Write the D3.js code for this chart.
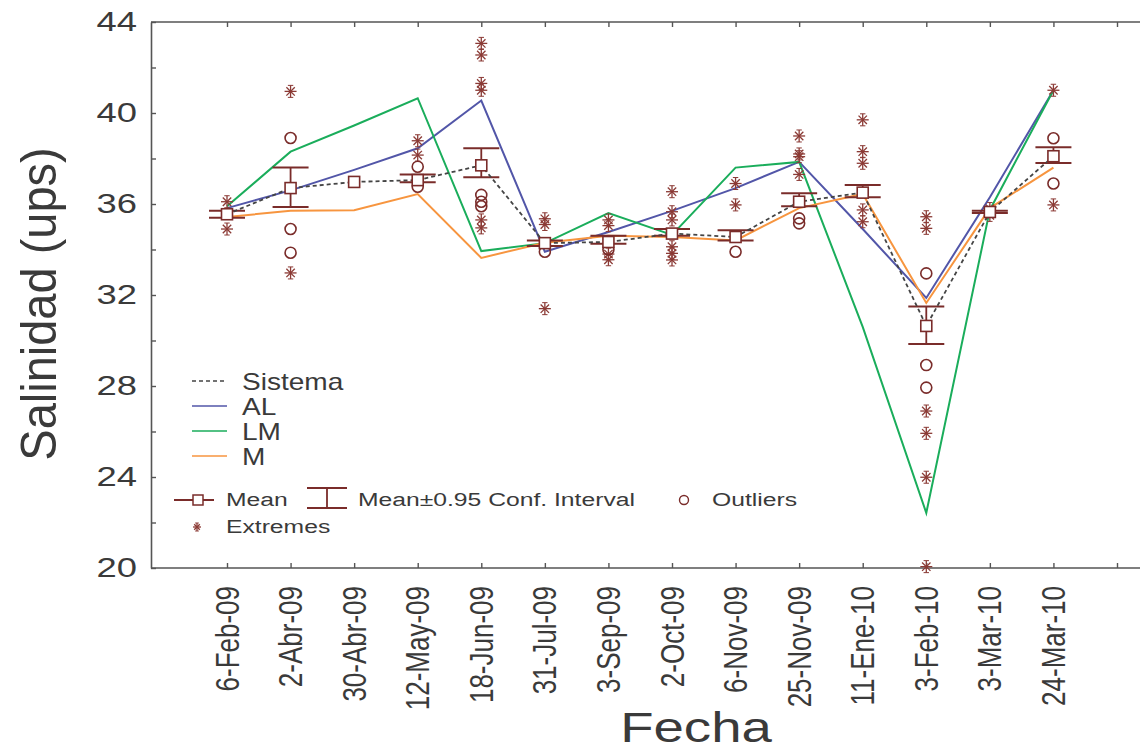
<!DOCTYPE html>
<html>
<head>
<meta charset="utf-8">
<script src="https://cdn.jsdelivr.net/npm/d3@7"></script>
<style>
  html, body { margin: 0; padding: 0; background: #fff; }
  svg { display: block; }
  text { font-family: "Liberation Sans", Arial, sans-serif; fill: #3a3a3a; }
</style>
</head>
<body>
<svg id="chart" width="1140" height="752"></svg>
<script>
// Sampling dates
const categories = ["6-Feb-09","2-Abr-09","30-Abr-09","12-May-09","18-Jun-09","31-Jul-09",
  "3-Sep-09","2-Oct-09","6-Nov-09","25-Nov-09","11-Ene-10","3-Feb-10","3-Mar-10","24-Mar-10"];

// Whole-system mean and its 95% confidence interval
const sistema = [35.55, 36.7, 36.97, 37.05, 37.7, 34.28, 34.33, 34.7, 34.55, 36.1, 36.5, 30.64, 35.65, 38.1];
const ciLow   = [35.4, 35.87, 36.97, 36.96, 37.18, 34.15, 34.25, 34.6, 34.4, 35.9, 36.3, 29.85, 35.6, 37.8];
const ciHigh  = [35.7, 37.6, 36.97, 37.3, 38.45, 34.4, 34.6, 34.9, 34.85, 36.47, 36.84, 31.5, 35.7, 38.5];

// Zone series
const AL = [35.82, 36.6, 37.5, 38.45, 40.55, 33.9, 34.77, 35.7, 36.7, 37.85, 34.9, 31.87, 36.3, 41.0];
const LM = [35.9, 38.3, 39.45, 40.65, 33.93, 34.28, 35.6, 34.64, 37.6, 37.85, 30.6, 22.42, 35.74, 41.0];
const M  = [35.43, 35.7, 35.73, 36.44, 33.63, 34.3, 34.6, 34.55, 34.4, 35.82, 36.44, 31.65, 35.82, 37.6];

// Outliers and extremes per date
const outliers = [[], [38.9, 34.9, 33.86], [], [37.64, 36.76], [36.4, 36.1, 35.9], [33.9], [34.0], [],
  [33.9], [35.37, 35.15], [], [32.95, 28.92, 27.93], [], [38.89, 36.9]];
const extremes = [[36.1, 34.9], [40.95, 32.97], [], [38.78, 38.15], [43.06, 42.55, 41.3, 41.0, 35.3, 34.95],
  [35.35, 35.1, 31.4], [35.3, 35.05, 33.8, 33.55], [36.54, 35.66, 35.3, 34.12, 33.83, 33.54], [36.9, 35.96],
  [38.99, 38.2, 38.08, 37.3], [39.7, 38.3, 37.79, 35.74, 35.22], [35.44, 34.93, 26.9, 25.92, 23.99, 20.06],
  [35.8, 35.5], [41.0, 35.96]];

const yTicks = [20, 24, 28, 32, 36, 40, 44];

const W = 1140, H = 752;
const plotLeft = 151, plotTop = 22, plotBottom = 568;
const svg = d3.select("#chart");

const x = d3.scaleLinear().domain([0, categories.length]).range([227, 1117]);
const y = d3.scaleLinear().domain([20, 44]).range([plotBottom, plotTop]);

const markColor = "#7a2c2a";
const axisColor = "#555";
const SX = 1.3; // horizontal glyph stretch

function stext(g, px, py, str, size, anchor, rot, sx, baseline) {
  return g.append("text")
    .attr("transform", `translate(${px},${py}) scale(${sx || SX},1)${rot ? " rotate(-90)" : ""}`)
    .attr("text-anchor", anchor || "start")
    .attr("dominant-baseline", baseline || "central")
    .style("font-size", size + "px")
    .text(str);
}

// Frame lines
svg.append("line").attr("x1", plotLeft).attr("x2", W).attr("y1", plotTop).attr("y2", plotTop)
  .attr("stroke", axisColor).attr("stroke-width", 1.6);
svg.append("line").attr("x1", plotLeft).attr("x2", W).attr("y1", plotBottom).attr("y2", plotBottom)
  .attr("stroke", axisColor).attr("stroke-width", 1.6);

// Inward ticks
const idx = d3.range(categories.length + 1);
const styleAxis = g => {
  g.select(".domain").remove();
  g.selectAll(".tick line").attr("stroke", axisColor).attr("stroke-width", 1.4);
  g.selectAll(".tick text").remove();
};
svg.append("g").attr("transform", `translate(0,${plotBottom})`)
  .call(d3.axisTop(x).tickValues(idx).tickSize(5).tickSizeOuter(0)).call(styleAxis);
svg.append("g").attr("transform", `translate(0,${plotTop})`)
  .call(d3.axisBottom(x).tickValues(idx).tickSize(5).tickSizeOuter(0)).call(styleAxis);
const yAxis = svg.append("g").attr("transform", `translate(${plotLeft},0)`)
  .call(d3.axisRight(y).tickValues(d3.range(20, 45, 2)).tickSize(5).tickSizeOuter(0).tickFormat(""));
yAxis.select(".domain").attr("stroke", axisColor).attr("stroke-width", 1.6);
yAxis.selectAll(".tick line").attr("stroke", axisColor).attr("stroke-width", 1.4);

// Tick labels
const labels = svg.append("g");
yTicks.forEach(v => stext(labels, 137, y(v), String(v), 28, "end"));
categories.forEach((c, i) => stext(labels, x(i), 586, c, 26, "end", true, 1.25));

// Axis titles
stext(labels, 39, 304, "Salinidad (ups)", 47, "middle", true, 1.05);
stext(labels, 696, 742, "Fecha", 42, "middle", false, 1.3, "auto");

// Zone lines
const line = d3.line().x((d, i) => x(i)).y(d => y(d));
const series = [
  { name: "AL", data: AL, color: "#5256a8" },
  { name: "LM", data: LM, color: "#1aad5b" },
  { name: "M", data: M, color: "#f7953f" }
];
series.forEach(s => {
  svg.append("path").datum(s.data).attr("d", line)
    .attr("fill", "none").attr("stroke", s.color).attr("stroke-width", 2);
});

// Extremes (asterisks with short end bars)
function star(g, cx, cy, r) {
  const p = g.append("g").attr("transform", `translate(${cx},${cy})`)
    .attr("stroke", "#8b3a35").attr("stroke-width", 1.3);
  p.append("line").attr("x1", -r).attr("x2", r).attr("y1", 0).attr("y2", 0);
  p.append("line").attr("x1", 0).attr("x2", 0).attr("y1", -r).attr("y2", r);
  p.append("line").attr("x1", -r * 0.7).attr("x2", r * 0.7).attr("y1", -r * 0.7).attr("y2", r * 0.7);
  p.append("line").attr("x1", -r * 0.7).attr("x2", r * 0.7).attr("y1", r * 0.7).attr("y2", -r * 0.7);
  [-r, r].forEach(e => p.append("line").attr("x1", -r * 0.45).attr("x2", r * 0.45)
    .attr("y1", e).attr("y2", e).attr("stroke-width", 1));
}
const marks = svg.append("g");
extremes.forEach((vals, i) => vals.forEach(v => star(marks, x(i), y(v), 6)));

// Outliers (open circles)
outliers.forEach((vals, i) => vals.forEach(v => {
  marks.append("circle").attr("cx", x(i)).attr("cy", y(v)).attr("r", 5.5)
    .attr("fill", "none").attr("stroke", markColor).attr("stroke-width", 1.6);
}));

// Confidence interval bars
sistema.forEach((m, i) => {
  if (ciHigh[i] - ciLow[i] < 0.01) return;
  const cx = x(i), hw = 18;
  marks.append("line").attr("x1", cx).attr("x2", cx).attr("y1", y(ciLow[i])).attr("y2", y(ciHigh[i]))
    .attr("stroke", markColor).attr("stroke-width", 1.8);
  [ciLow[i], ciHigh[i]].forEach(v => marks.append("line")
    .attr("x1", cx - hw).attr("x2", cx + hw).attr("y1", y(v)).attr("y2", y(v))
    .attr("stroke", markColor).attr("stroke-width", 2));
});

// System mean: dashed line through square markers
svg.append("path").datum(sistema).attr("d", line)
  .attr("fill", "none").attr("stroke", "#444").attr("stroke-width", 1.8)
  .attr("stroke-dasharray", "4,3");
sistema.forEach((m, i) => {
  svg.append("rect").attr("x", x(i) - 5.5).attr("y", y(m) - 5.5).attr("width", 11).attr("height", 11)
    .attr("fill", "#fff").attr("stroke", markColor).attr("stroke-width", 1.6);
});

// Series legend
const leg = svg.append("g");
const legRows = [
  { name: "Sistema", color: "#444", dash: "4,3", yy: 381 },
  { name: "AL", color: "#5256a8", dash: null, yy: 406 },
  { name: "LM", color: "#1aad5b", dash: null, yy: 431 },
  { name: "M", color: "#f7953f", dash: null, yy: 456 }
];
legRows.forEach(r => {
  leg.append("line").attr("x1", 192).attr("x2", 227).attr("y1", r.yy).attr("y2", r.yy)
    .attr("stroke", r.color).attr("stroke-width", 1.6).attr("stroke-dasharray", r.dash);
  stext(leg, 242, r.yy + 1, r.name, 23, "start", false, 1.22);
});

// Marker legend
leg.append("line").attr("x1", 174).attr("x2", 214).attr("y1", 500).attr("y2", 500)
  .attr("stroke", markColor).attr("stroke-width", 1.8);
leg.append("rect").attr("x", 193).attr("y", 495).attr("width", 10).attr("height", 10)
  .attr("fill", "#fff").attr("stroke", markColor).attr("stroke-width", 1.5);
stext(leg, 226, 500, "Mean", 19, "start");
leg.append("line").attr("x1", 327).attr("x2", 327).attr("y1", 488).attr("y2", 508)
  .attr("stroke", markColor).attr("stroke-width", 1.8);
[488, 508].forEach(yy => leg.append("line").attr("x1", 307).attr("x2", 347).attr("y1", yy).attr("y2", yy)
  .attr("stroke", markColor).attr("stroke-width", 1.8));
stext(leg, 358, 500, "Mean±0.95 Conf. Interval", 19, "start");
leg.append("circle").attr("cx", 684).attr("cy", 500).attr("r", 4.5)
  .attr("fill", "none").attr("stroke", markColor).attr("stroke-width", 1.4);
stext(leg, 712, 500, "Outliers", 19, "start");
star(leg, 197, 527, 4);
stext(leg, 226, 527, "Extremes", 19, "start");
</script>
</body>
</html>
